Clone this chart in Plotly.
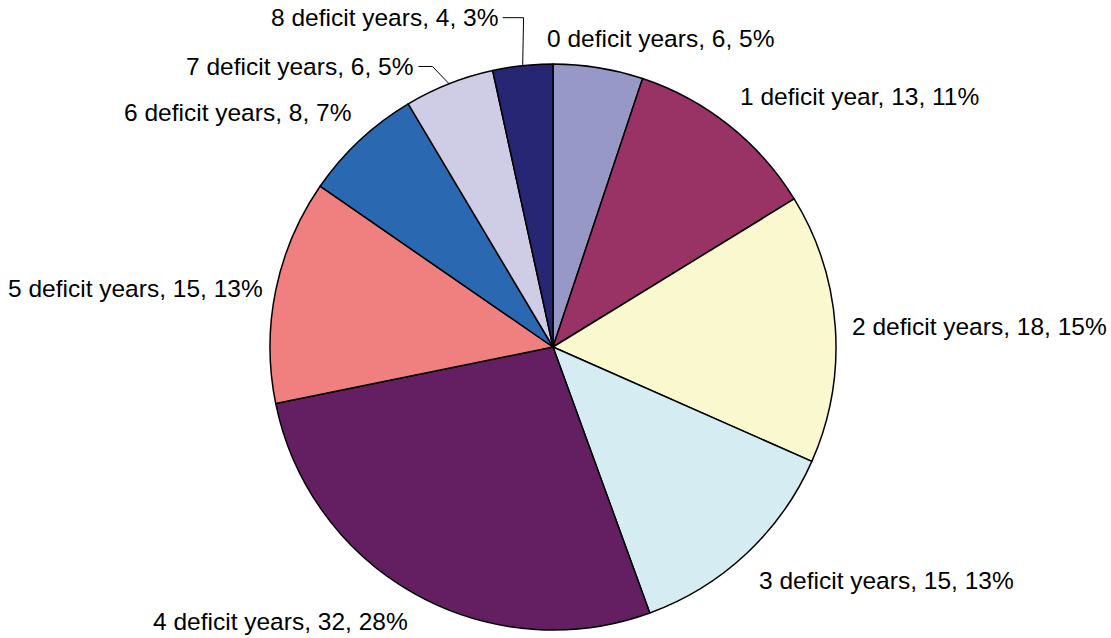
import math
import plotly.graph_objects as go

categories = ["0 deficit years", "1 deficit year", "2 deficit years", "3 deficit years",
              "4 deficit years", "5 deficit years", "6 deficit years", "7 deficit years",
              "8 deficit years"]
counts = [6, 13, 18, 15, 32, 15, 8, 6, 4]
pct_labels = ["5%", "11%", "15%", "13%", "28%", "13%", "7%", "5%", "3%"]
colors = ["#9797C8", "#993366", "#FAF8CE", "#D5ECF3", "#641F62",
          "#F08080", "#2A68B2", "#CFCCE6", "#262674"]

W, H = 1111, 638
cx, cy, r = 553, 347, 283
FONT = dict(family="Liberation Sans, Arial, sans-serif", size=24.5, color="black")

# label placement: pixel nudges from the point just outside each slice's middle
label_nudge = [(-55, -19), (3, -21), (5, -1), (4, 19), (0, 19), (-1, 0), (0, -20), (-30, -8), (-22, -38)]
# slices whose labels get a leader line, with the elbow distance from the text end
leaders = {7: 17, 8: 24}

texts = [f"{c}, {n}, {p}" for c, n, p in zip(categories, counts, pct_labels)]

fig = go.Figure(go.Pie(
    labels=categories,
    values=counts,
    textinfo="none",
    sort=False,
    direction="clockwise",
    rotation=0,
    marker=dict(colors=colors, line=dict(color="black", width=1.5)),
    hoverinfo="label+value",
    domain=dict(x=[(cx - r) / W, (cx + r) / W], y=[(H - cy - r) / H, (H - cy + r) / H]),
))


def to_paper(px, py):
    return px / W, 1 - py / H


total = sum(counts)
cum = 0
for i, (n, txt) in enumerate(zip(counts, texts)):
    theta = math.radians((cum + n / 2) / total * 360)
    cum += n
    s, c = math.sin(theta), -math.cos(theta)
    bx, by = cx + (r + 10) * s, cy + (r + 10) * c
    dx, dy = label_nudge[i]
    lx, ly = bx + dx, by + dy
    side = "left" if s > 0 else "right"
    x, y = to_paper(lx, ly)
    fig.add_annotation(x=x, y=y, xref="paper", yref="paper", text=txt, showarrow=False,
                       xanchor=side, yanchor="middle", font=FONT)
    if i in leaders:
        ex, ey = cx + r * s, cy + r * c
        pts = [(lx + 3, ly), (lx + leaders[i], ly), (ex, ey)]
        path = "M " + " L ".join(f"{px / W},{1 - py / H}" for px, py in pts)
        fig.add_shape(type="path", path=path, xref="paper", yref="paper",
                      line=dict(color="black", width=1))

fig.update_layout(
    width=W, height=H,
    margin=dict(l=0, r=0, t=0, b=0),
    showlegend=False,
    paper_bgcolor="white",
    plot_bgcolor="white",
)

# drop the default page margin so the figure sits at the window's top-left
fig.write_html("out.html", config={"displayModeBar": False},
               post_script="document.body.style.margin='0';")
